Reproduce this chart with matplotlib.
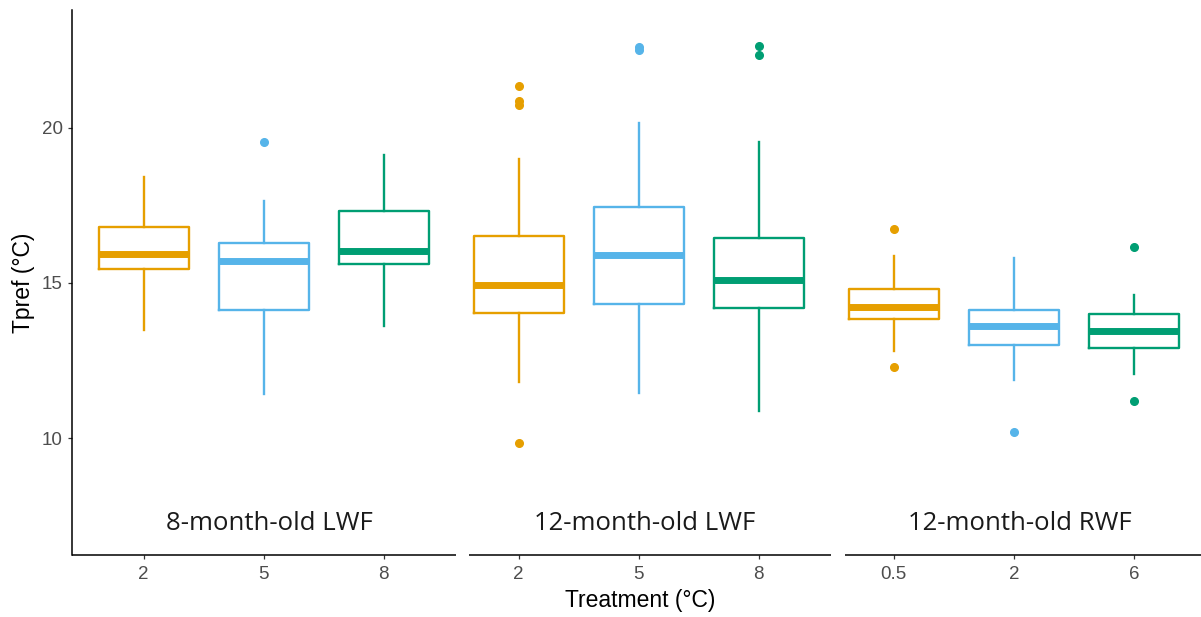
import matplotlib
matplotlib.use("Agg")
import matplotlib.pyplot as plt

# data
groups = ["8-month-old LWF", "12-month-old LWF", "12-month-old RWF"]
treatments = [["2", "5", "8"], ["2", "5", "8"], ["0.5", "2", "6"]]
colors = ["#E69F00", "#56B4E9", "#009E73"]

whislo = [13.48, 11.42, 13.61, 11.81, 11.45, 10.88, 12.81, 11.86, 12.05]
q1 = [15.45, 14.14, 15.60, 14.03, 14.31, 14.18, 13.84, 13.01, 12.89]
med = [15.94, 15.70, 16.04, 14.94, 15.89, 15.09, 14.24, 13.61, 13.46]
q3 = [16.81, 16.30, 17.31, 16.52, 17.44, 16.46, 14.79, 14.12, 13.99]
whishi = [18.42, 17.64, 19.11, 18.99, 20.16, 19.56, 15.86, 15.79, 14.62]
fliers = [[], [19.56], [],
          [21.34, 20.86, 20.73, 9.83], [22.61, 22.51], [22.65, 22.35],
          [16.75, 12.30], [10.19], [16.15, 11.20]]

W, H = 1201, 617
fig = plt.figure(figsize=(W / 100, H / 100), dpi=100)
ax = fig.add_axes([72 / W, (H - 555) / H, (W - 72) / W, 545 / H])

gap = 0.125
pos = [i + 1 + (i // 3) * gap for i in range(9)]
stats = []
for i in range(9):
    stats.append(dict(med=med[i], q1=q1[i], q3=q3[i], whislo=whislo[i],
                      whishi=whishi[i], fliers=fliers[i]))

for i in range(9):
    c = colors[i % 3]
    ax.bxp([stats[i]], positions=[pos[i]], widths=0.75, showcaps=False,
           boxprops=dict(color=c, lw=1.7),
           whiskerprops=dict(color=c, lw=1.7),
           medianprops=dict(color=c, lw=5, solid_capstyle="butt"),
           flierprops=dict(marker="o", markerfacecolor=c, markeredgecolor=c,
                           markersize=5.5, linestyle="none"))

ylo, yhi = 6.23, 23.8
xlo, xhi = 0.404, 9.81
ax.set_xlim(xlo, xhi)
ax.set_ylim(ylo, yhi)

for s in ["top", "right", "bottom"]:
    ax.spines[s].set_visible(False)
ax.spines["left"].set_linewidth(1.1)

# broken x axis line, one piece per group
for g in range(3):
    a = xlo if g == 0 else pos[g * 3] - 0.41
    b = min(pos[g * 3 + 2] + 0.604, xhi)
    ax.plot([a, b], [ylo, ylo], color="black", lw=1.1, clip_on=False,
            solid_capstyle="butt")
    ax.text(pos[g * 3 + 1] + 0.05, 7.26, groups[g], ha="center", va="center",
            fontsize=18.5, family="Open Sans", color="#1a1a1a")

labels = [t for grp in treatments for t in grp]
ax.set_xticks(pos)
ax.set_xticklabels(labels)
ax.set_yticks([10, 15, 20])
ax.tick_params(axis="both", colors="#333333", labelcolor="#4D4D4D",
               labelsize=13.5, length=3, width=0.9)
ax.tick_params(axis="x", pad=5)
for lab in ax.get_xticklabels() + ax.get_yticklabels():
    lab.set_family("Liberation Sans")

ax.set_ylabel("Tpref (°C)", fontsize=16.5, family="Liberation Sans", labelpad=5)
ax.set_xlabel("Treatment (°C)", fontsize=16.5, family="Liberation Sans")
ax.xaxis.set_label_coords((640 - 72) / (W - 72), -0.062)

fig.savefig("out.png", dpi=100)
